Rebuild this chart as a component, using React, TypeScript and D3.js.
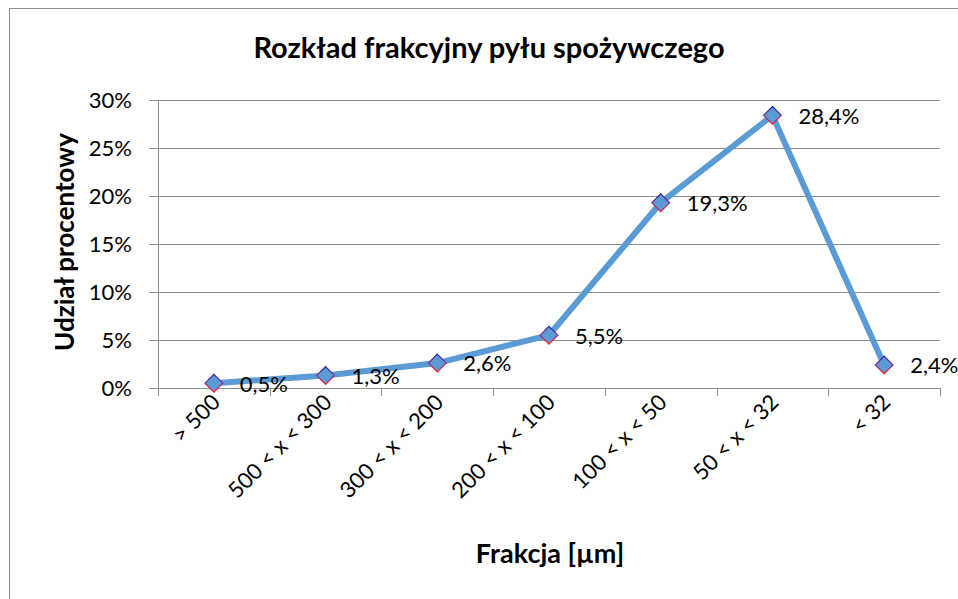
import React, { useRef, useEffect } from "react";
import * as d3 from "d3";

const categories = [
  "> 500",
  "500 < x < 300",
  "300 < x < 200",
  "200 < x < 100",
  "100 < x < 50",
  "50 < x < 32",
  "< 32",
];
const shares = [0.5, 1.3, 2.6, 5.5, 19.3, 28.4, 2.4];
const yTicks = [0, 5, 10, 15, 20, 25, 30];

const FONT = "Lato, 'Open Sans', sans-serif";

function App() {
  const svgRef = useRef<SVGSVGElement>(null);

  useEffect(() => {
    const svg = d3.select(svgRef.current);
    svg.selectAll("*").remove();

    const left = 158;
    const right = 940;
    const top = 100;
    const bottom = 388;

    const x = d3.scaleBand().domain(categories).range([left, right]);
    const y = d3.scaleLinear().domain([0, 30]).range([bottom, top]);
    const cx = (c: string) => (x(c) as number) + x.bandwidth() / 2;

    // gradient for marker outline (blue on top, red below)
    const defs = svg.append("defs");
    const grad = defs
      .append("linearGradient")
      .attr("id", "mk")
      .attr("x1", 0)
      .attr("y1", 0)
      .attr("x2", 0)
      .attr("y2", 1);
    grad.append("stop").attr("offset", "0%").attr("stop-color", "#1c1c9c");
    grad.append("stop").attr("offset", "50%").attr("stop-color", "#8a2a90");
    grad.append("stop").attr("offset", "100%").attr("stop-color", "#ff1a1a");

    // chart frame
    svg
      .append("rect")
      .attr("x", 9.5)
      .attr("y", 8.5)
      .attr("width", 1000)
      .attr("height", 700)
      .attr("fill", "white")
      .attr("stroke", "#8c8c8c");

    // title
    svg
      .append("text")
      .attr("x", 489)
      .attr("y", 58)
      .attr("text-anchor", "middle")
      .attr("font-family", FONT)
      .attr("font-weight", "bold")
      .attr("font-size", 29)
      .text("Rozkład frakcyjny pyłu spożywczego");

    // gridlines
    svg
      .append("g")
      .selectAll("line")
      .data(yTicks)
      .join("line")
      .attr("x1", left - 9)
      .attr("x2", right)
      .attr("y1", (d) => Math.round(y(d)) + 0.5)
      .attr("y2", (d) => Math.round(y(d)) + 0.5)
      .attr("stroke", "#8c8c8c")
      .attr("stroke-width", 1);

    // y axis line
    svg
      .append("line")
      .attr("x1", left + 0.5)
      .attr("x2", left + 0.5)
      .attr("y1", top)
      .attr("y2", bottom + 8)
      .attr("stroke", "#8c8c8c");

    // y tick labels
    svg
      .append("g")
      .selectAll("text")
      .data(yTicks)
      .join("text")
      .attr("x", 132)
      .attr("y", (d) => y(d))
      .attr("dy", "0.36em")
      .attr("text-anchor", "end")
      .attr("font-family", FONT)
      .attr("font-size", 22)
      .text((d) => `${d}%`);

    // x tick marks
    const xTickPos = categories.map((c) => x(c) as number).concat([right]);
    svg
      .append("g")
      .selectAll("line")
      .data(xTickPos)
      .join("line")
      .attr("x1", (d) => Math.round(d) + 0.5)
      .attr("x2", (d) => Math.round(d) + 0.5)
      .attr("y1", bottom)
      .attr("y2", bottom + 8)
      .attr("stroke", "#8c8c8c");

    // x category labels
    svg
      .append("g")
      .selectAll("text")
      .data(categories)
      .join("text")
      .attr("transform", (c) => `translate(${cx(c) + 2},${bottom + 10}) rotate(-45)`)
      .attr("text-anchor", "end")
      .attr("dy", "0.36em")
      .attr("font-family", FONT)
      .attr("font-size", 22)
      .text((c) => c);

    // axis titles
    svg
      .append("text")
      .attr("transform", `translate(74,242) rotate(-90)`)
      .attr("text-anchor", "middle")
      .attr("font-family", FONT)
      .attr("font-weight", "bold")
      .attr("font-size", 26)
      .text("Udział procentowy");

    svg
      .append("text")
      .attr("x", 550)
      .attr("y", 563)
      .attr("text-anchor", "middle")
      .attr("font-family", FONT)
      .attr("font-weight", "bold")
      .attr("font-size", 27)
      .text("Frakcja [µm]");

    // series line
    const line = d3
      .line<number>()
      .x((d, i) => cx(categories[i]))
      .y((d) => y(d));
    svg
      .append("path")
      .datum(shares)
      .attr("d", line)
      .attr("fill", "none")
      .attr("stroke", "#5b9bd5")
      .attr("stroke-width", 6)
      .attr("stroke-linejoin", "round");

    // markers
    const diamond = d3.symbol().type(d3.symbolDiamond2).size(200);
    svg
      .append("g")
      .selectAll("path")
      .data(shares)
      .join("path")
      .attr("d", diamond)
      .attr("transform", (d, i) => `translate(${cx(categories[i])},${y(d)})`)
      .attr("fill", "#5b9bd5")
      .attr("stroke", "url(#mk)")
      .attr("stroke-width", 1.2);

    // data labels
    svg
      .append("g")
      .selectAll("text")
      .data(shares)
      .join("text")
      .attr("x", (d, i) => cx(categories[i]) + 26)
      .attr("y", (d) => y(d))
      .attr("dy", "0.38em")
      .attr("font-family", FONT)
      .attr("font-size", 22)
      .text((d) => `${d.toFixed(1).replace(".", ",")}%`);
  }, []);

  return (
    <svg
      ref={svgRef}
      width={958}
      height={599}
      style={{ position: "absolute", left: 0, top: 0, background: "white" }}
    />
  );
}

export default App;
